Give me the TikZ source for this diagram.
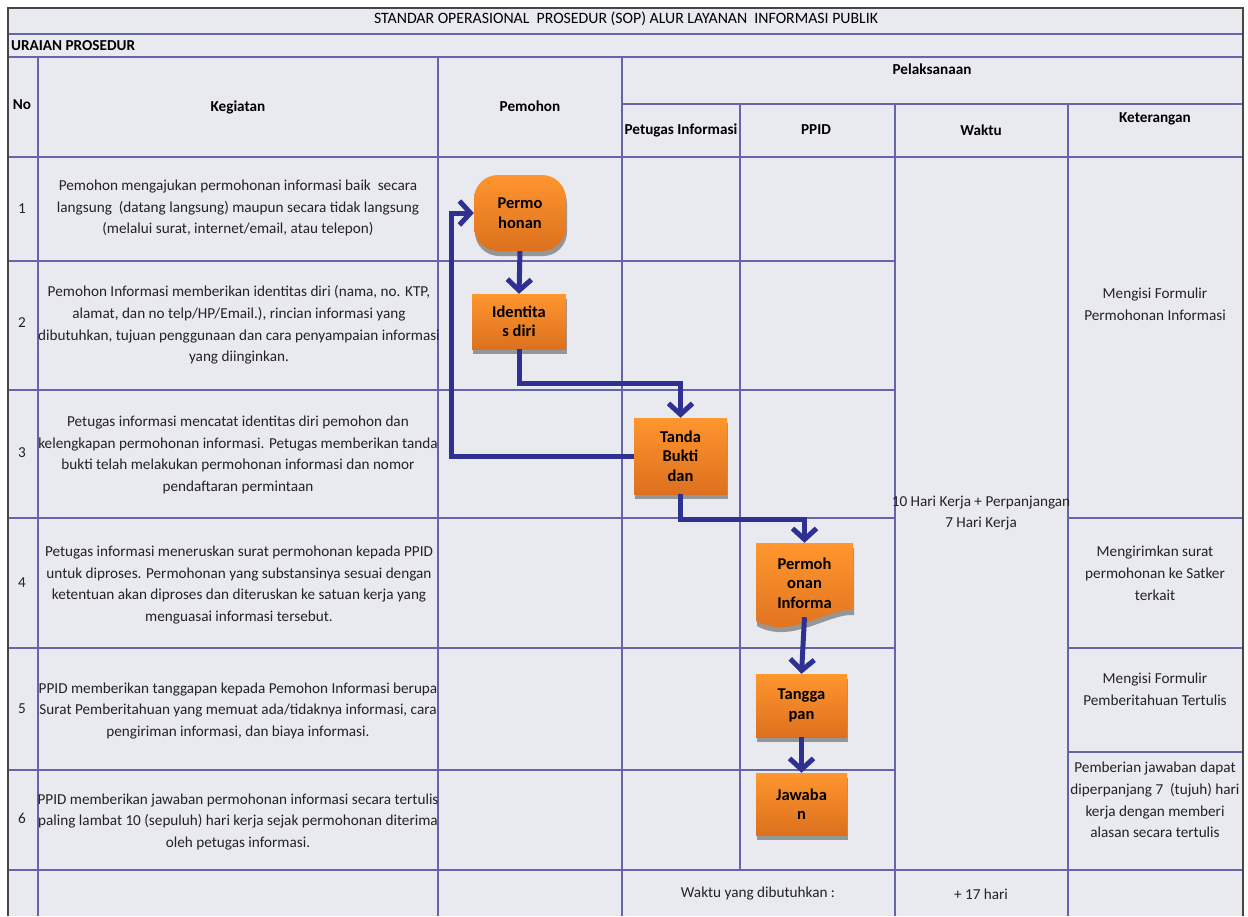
\documentclass[tikz,border=0pt]{standalone}
\usepackage{fontspec}
\setmainfont{Carlito}
\usetikzlibrary{arrows.meta,shadows,calc}
\definecolor{bgc}{RGB}{233,233,240}
\definecolor{gridc}{RGB}{100,100,170}
\definecolor{flowc}{RGB}{46,49,146}
\definecolor{ortop}{RGB}{255,150,46}
\definecolor{orbot}{RGB}{220,112,30}
\definecolor{txtc}{RGB}{35,35,35}
\definecolor{shad}{RGB}{150,150,150}
\begin{document}
\begin{tikzpicture}[x=1pt,y=-1pt,
 grid/.style={draw=gridc,line width=1.5pt},
 border/.style={draw=gray!55!black,line width=1.8pt},
 cell/.style={font=\fontsize{15.2}{21.8}\selectfont,text=txtc,align=center,inner sep=0pt},
 head/.style={font=\bfseries\fontsize{15.2}{18}\selectfont,text=black,align=center,inner sep=0pt},
 obox/.style={top color=ortop,bottom color=orbot,draw=none,inner sep=0pt,
   font=\bfseries\fontsize{16.5}{19.5}\selectfont,align=center,
   drop shadow={shadow xshift=1pt,shadow yshift=-5pt,fill=shad,opacity=1}},
 flow/.style={draw=flowc,line width=5pt,-{Straight Barb[length=11pt,width=24pt]}}
]
\useasboundingbox (0,0) rectangle (1248,916);
\fill[white] (0,0) rectangle (1248,916);
\fill[bgc] (8,8) rectangle (1243,916);

% grid lines
\draw[grid] (8,34) -- (1243,34);
\draw[grid] (8,57) -- (1243,57);
\draw[grid] (622,104) -- (1243,104);
\draw[grid] (8,157) -- (1243,157);
\foreach \yy in {261,390,770} \draw[grid] (8,\yy) -- (895,\yy);
\foreach \yy in {518,648} {\draw[grid] (8,\yy) -- (895,\yy); \draw[grid] (1068,\yy) -- (1243,\yy);}
\draw[grid] (1068,752) -- (1243,752);
\draw[grid] (8,870) -- (1243,870);
\foreach \xx in {38,438,622} \draw[grid] (\xx,57) -- (\xx,916);
\draw[grid] (740,104) -- (740,870);
\foreach \xx in {895,1068} \draw[grid] (\xx,104) -- (\xx,916);
\draw[border] (8,916) -- (8,8) -- (1243,8) -- (1243,916);

% header texts
\node[cell,text=black,font=\fontsize{15.8}{18}\selectfont] (title) at (626,19) {STANDAR OPERASIONAL\ \ PROSEDUR (SOP) ALUR LAYANAN\ \ INFORMASI PUBLIK};
\node[head,anchor=west] (uraian) at (11,46) {URAIAN PROSEDUR};
\node[head] (hno) at (22,105) {No};
\node[head] (hkeg) at (238,107) {Kegiatan};
\node[head] (hpem) at (530,106) {Pemohon};
\node[head] (hpel) at (932,69) {Pelaksanaan};
\node[head] (hpet) at (681,130) {Petugas Informasi};
\node[head] (hppid) at (816,130) {PPID};
\node[head] (hwak) at (981,130) {Waktu};
\node[head] (hket) at (1155,119) {Keterangan};

% numbers
\node[cell] (n1) at (22,209) {1};
\node[cell] (n2) at (22,323) {2};
\node[cell] (n3) at (22,453) {3};
\node[cell] (n4) at (22,583) {4};
\node[cell] (n5) at (22,709) {5};
\node[cell] (n6) at (22,818) {6};

% kegiatan
\node[cell] (k1) at (238,208) {Pemohon mengajukan permohonan informasi baik\ \ secara\\langsung\ \ (datang langsung) maupun secara tidak langsung\\(melalui surat, internet/email, atau telepon)};
\node[cell] (k2) at (239,325) {Pemohon Informasi memberikan identitas diri (nama, no. KTP,\\alamat, dan no telp/HP/Email.), rincian informasi yang\\dibutuhkan, tujuan penggunaan dan cara penyampaian informasi\\yang diinginkan.};
\node[cell] (k3) at (238,455) {Petugas informasi mencatat identitas diri pemohon dan\\kelengkapan permohonan informasi. Petugas memberikan tanda\\bukti telah melakukan permohonan informasi dan nomor\\pendaftaran permintaan};
\node[cell] (k4) at (239,585) {Petugas informasi meneruskan surat permohonan kepada PPID\\untuk diproses. Permohonan yang substansinya sesuai dengan\\ketentuan akan diproses dan diteruskan ke satuan kerja yang\\menguasai informasi tersebut.};
\node[cell] (k5) at (238,711) {PPID memberikan tanggapan kepada Pemohon Informasi berupa\\Surat Pemberitahuan yang memuat ada/tidaknya informasi, cara\\pengiriman informasi, dan biaya informasi.};
\node[cell] (k6) at (238,822) {PPID memberikan jawaban permohonan informasi secara tertulis\\paling lambat 10 (sepuluh) hari kerja sejak permohonan diterima\\oleh petugas informasi.};

% waktu & keterangan
\node[cell] (w) at (981,513) {10 Hari Kerja + Perpanjangan\\7 Hari Kerja};
\node[cell] (ket1) at (1155,304) {Mengisi Formulir\\Permohonan Informasi};
\node[cell] (ket2) at (1155,573) {Mengirimkan surat\\permohonan ke Satker\\terkait};
\node[cell] (ket3) at (1155,689) {Mengisi Formulir\\Pemberitahuan Tertulis};
\node[cell] (ket4) at (1155,800) {Pemberian jawaban dapat\\diperpanjang 7\ \ (tujuh) hari\\kerja dengan memberi\\alasan secara tertulis};
\node[cell] (tot) at (758,894) {Waktu yang dibutuhkan :};
\node[cell] (totw) at (981,894) {+ 17 hari};

% flow boxes
\node[obox,rounded corners=24pt,minimum width=92pt,minimum height=76pt] (perm) at (520,213) {Permo\\honan};
\node[obox,minimum width=94pt,minimum height=55pt] (iden) at (519,321.5) {Identita\\s diri};
\node[obox,minimum width=93pt,minimum height=76pt] (tanda) at (680.5,456) {Tanda\\Bukti\\dan};
\path[top color=ortop,bottom color=orbot,drop shadow={shadow xshift=1pt,shadow yshift=-5pt,fill=shad,opacity=1}]
  (756,543) -- (853,543) -- (853,610) .. controls (828,608) and (790,640) .. (756,621) -- cycle;
\node[inner sep=0pt,minimum width=97pt,minimum height=80pt,font=\bfseries\fontsize{16.5}{19.5}\selectfont,align=center] (doc) at (804.5,583) {Permoh\\onan\\Informa};
\node[obox,minimum width=91pt,minimum height=63pt] (tang) at (801.5,705.5) {Tangga\\pan};
\node[obox,minimum width=91pt,minimum height=62pt] (jaw) at (801.5,804) {Jawaba\\n};

% connectors
\draw[flow] (perm.south) -- (iden.north);
\draw[flow] (iden.south) -- ++(0,34) -| (tanda.north);
\draw[flow] (tanda.west) -- ++(-182,0) |- (perm.west);
\draw[flow] (tanda.south) -- ++(0,25) -| (doc.north);
\draw[flow] ($(doc.south)+(0,-6)$) -- (tang.north);
\draw[flow] (tang.south) -- (jaw.north);
\end{tikzpicture}
\end{document}
